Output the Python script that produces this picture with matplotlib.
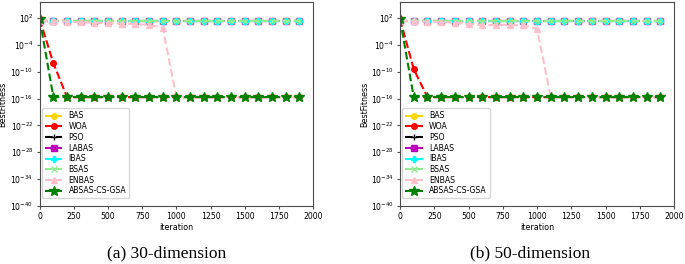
import numpy as np
import matplotlib
matplotlib.use('Agg')
import matplotlib.pyplot as plt
from matplotlib.ticker import LogFormatterSciNotation, NullLocator

#### DATA #######################################
ITER = list(range(0, 2000, 100))
EPS = 2.2e-16
TOP = 25.0

NAMES = ['BAS', 'WOA', 'PSO', 'LABAS', 'IBAS', 'BSAS', 'ENBAS', 'ABSAS-CS-GSA']
COLORS = ['gold', 'red', 'black', 'm', 'cyan', 'lightgreen', 'pink', 'green']
MARKERS = ['o', 'o', '+', 's', 'P', 'x', '^', '*']

flat = [TOP] * 20

# (a) 30-dimension
woa_a = [60.0, 8e-9] + [EPS] * 18
enbas_a = [25.0, 20.0, 18.0, 12.0, 9.0, 8.0, 6.0, 5.0, 3.0, 0.8] + [EPS] * 10
absas_a = [60.0] + [EPS] * 19

# (b) 50-dimension
woa_b = [60.0, 4e-10] + [EPS] * 18
enbas_b = [25.0, 20.0, 17.0, 14.0, 10.0, 5.0, 3.0, 3.0, 3.0, 2.5, 0.4] + [EPS] * 9
absas_b = [60.0] + [EPS] * 19

PANELS = [
    ('(a) 30-dimension', [flat, woa_a, flat, flat, flat, flat, enbas_a, absas_a]),
    ('(b) 50-dimension', [flat, woa_b, flat, flat, flat, flat, enbas_b, absas_b]),
]

#### PLOT #######################################
fig = plt.figure(figsize=(6.85, 2.64), dpi=100)
rects = [[0.058, 0.22, 0.399, 0.772], [0.584, 0.22, 0.400, 0.772]]
label_x = [-0.118, -0.114]
caption_x = [0.243, 0.774]

for rect, lx, cx, (caption, series) in zip(rects, label_x, caption_x, PANELS):
    ax = fig.add_axes(rect)
    for name, col, mk, vals in zip(NAMES, COLORS, MARKERS, series):
        ms = 7.5 if mk == '*' else 4
        ax.plot(ITER, vals, linestyle='--', color=col, marker=mk,
                markersize=ms, linewidth=1.5, label=name)
    ax.set_yscale('log')
    ax.set_ylim(1e-40, 10 ** 5.6)
    ax.set_xlim(0, 2000)
    ax.set_yticks([10.0 ** k for k in range(2, -41, -6)])
    ax.yaxis.set_major_formatter(LogFormatterSciNotation())
    ax.yaxis.set_minor_locator(NullLocator())
    ax.set_xticks(range(0, 2001, 250))
    ax.tick_params(labelsize=5.6, length=2.5, pad=2, color='0.3')
    for s in ax.spines.values():
        s.set_color('0.3')
    ax.set_xlabel('iteration', fontsize=5.8, labelpad=1)
    ax.set_ylabel('BestFitness', fontsize=5.8)
    ax.yaxis.set_label_coords(lx, 0.5)
    ax.legend(loc='lower left', fontsize=5.6, handlelength=2.2,
              borderaxespad=0.3, labelspacing=0.22, borderpad=0.4,
              handletextpad=0.8, bbox_to_anchor=(0.0, 0.025))
    fig.text(cx, 0.042, caption, ha='center', va='center',
             fontsize=12.5, family='Liberation Serif')

fig.savefig('out.png', dpi=100)
